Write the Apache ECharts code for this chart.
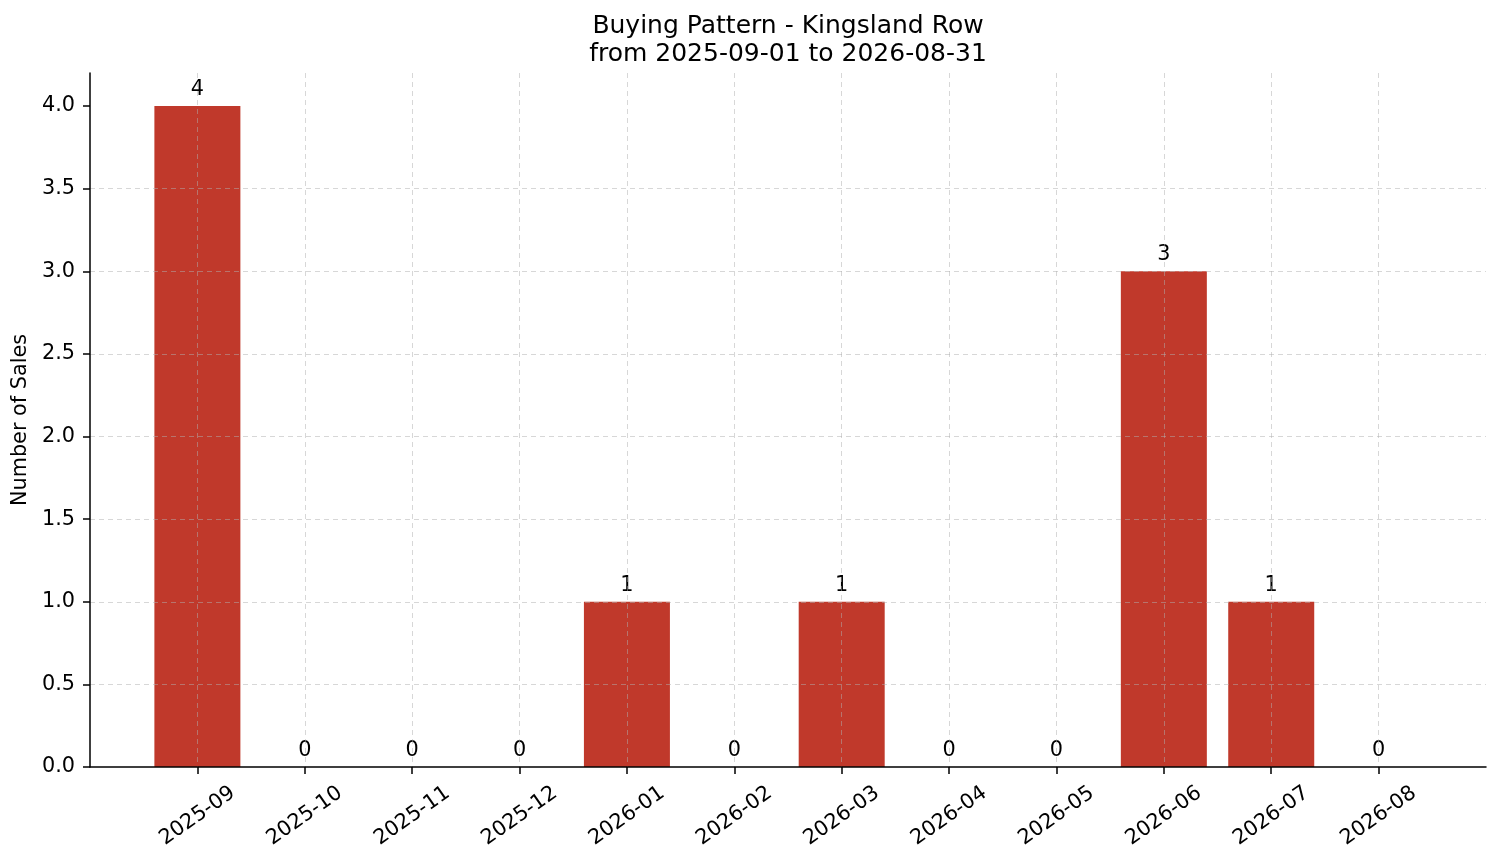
<!DOCTYPE html>
<html>
<head>
<meta charset="utf-8">
<script src="https://cdn.jsdelivr.net/npm/echarts@6/dist/echarts.min.js"></script>
<style>
html,body{margin:0;padding:0;background:#fff;}
#c{width:1501px;height:863px;}
</style>
</head>
<body>
<div id="c"></div>
<script>
const months = ['2025-09','2025-10','2025-11','2025-12','2026-01','2026-02','2026-03','2026-04','2026-05','2026-06','2026-07','2026-08'];
const sales = [4,0,0,0,1,0,1,0,0,3,1,0];
const yTicks = [0,0.5,1,1.5,2,2.5,3,3.5,4];
const titleText = 'Buying Pattern - Kingsland Row\nfrom 2025-09-01 to 2026-08-31';
const yName = 'Number of Sales';

// pad one empty slot on each side so the axis spans -1 .. 12
const cats = [''].concat(months, ['']);
const vals = ['-'].concat(sales, ['-']);
const isReal = (i) => i > 0 && i < cats.length - 1;

const FONT = 'DejaVu Sans';
const FS = 20.8;
const chart = echarts.init(document.getElementById('c'));
chart.setOption({
  animation: false,
  backgroundColor: '#fff',
  textStyle: { fontFamily: FONT, color: '#000' },
  title: {
    text: titleText,
    left: 788,
    textAlign: 'center',
    top: 12,
    padding: 0,
    textStyle: { fontFamily: FONT, fontSize: 25, fontWeight: 'normal', color: '#000', lineHeight: 28 }
  },
  grid: { left: 90, right: 15, top: 73, bottom: 96, containLabel: false },
  xAxis: {
    type: 'category',
    data: cats,
    boundaryGap: false,
    z: 3,
    axisLine: { lineStyle: { color: '#000', width: 1.5 } },
    axisTick: { length: 7, lineStyle: { color: '#000', width: 1.5 }, interval: (i) => isReal(i) },
    axisLabel: {
      interval: (i) => isReal(i),
      rotate: 35,
      align: 'center',
      verticalAlign: 'middle',
      margin: 49,
      fontSize: FS,
      fontFamily: FONT,
      color: '#000'
    },
    splitLine: {
      show: true,
      interval: (i) => isReal(i),
      lineStyle: { color: 'rgba(176,176,176,0.5)', type: [5, 4], width: 1 }
    }
  },
  yAxis: {
    type: 'value',
    min: 0,
    max: 4.2,
    interval: 0.5,
    z: 3,
    name: yName,
    nameLocation: 'middle',
    nameGap: 48,
    nameTextStyle: { fontFamily: FONT, fontSize: FS, color: '#000' },
    axisLine: { show: true, lineStyle: { color: '#000', width: 1.5 } },
    axisTick: { show: true, length: 7, lineStyle: { color: '#000', width: 1.5 }, customValues: yTicks },
    axisLabel: {
      customValues: yTicks,
      formatter: (v) => Number(v).toFixed(1),
      margin: 15,
      fontSize: FS,
      fontFamily: FONT,
      color: '#000'
    },
    splitLine: {
      show: true,
      showMaxLine: false,
      showMinLine: false,
      lineStyle: { color: 'rgba(176,176,176,0.5)', type: [5, 4], width: 1 }
    }
  },
  series: [{
    type: 'bar',
    data: vals,
    barWidth: 86,
    itemStyle: { color: '#c0392b' },
    label: {
      show: true,
      position: 'top',
      distance: 6,
      fontSize: FS,
      fontFamily: FONT,
      color: '#000'
    }
  }]
});
</script>
</body>
</html>
